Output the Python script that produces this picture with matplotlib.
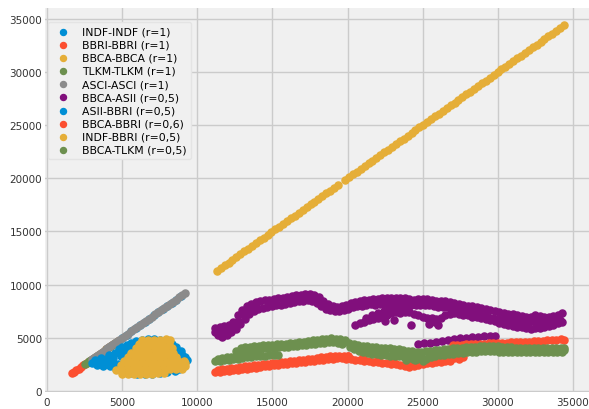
import matplotlib.pyplot as plt
import numpy as np

# prices used for the r=1 series (each stock plotted against itself)
indf_price = [5000, 5300, 5600, 5900, 6200, 6500, 6800, 7100, 7400, 7700, 8000, 8300, 8600, 8900]
bbri_price = [1650, 1800, 1950, 2100, 2250, 2400, 2550, 2700, 2900, 3100, 3300, 3500,
              3700, 3900, 4100, 4300, 4500, 4700]
bbca_price = [11300, 11560, 11820, 12080, 12340, 12600, 12860, 13120, 13380, 13640,
              13900, 14160, 14420, 14680, 14940, 15200, 15460, 15720, 15980, 16240,
              16500, 16760, 17020, 17280, 17540, 17800, 18060, 18320, 18580, 18840,
              19100, 19340, 19860, 20100, 20360, 20620, 20880, 21140, 21400, 21660,
              21920, 22180, 22440, 22700, 22960, 23220, 23480, 23740, 24000, 24260,
              24520, 24780, 25040, 25300, 25560, 25820, 26080, 26340, 26600, 26860,
              27120, 27380, 27640, 27900, 28160, 28420, 28680, 28940, 29200, 29460,
              29720, 29980, 30240, 30500, 30760, 31020, 31280, 31540, 31800, 32060,
              32320, 32580, 32840, 33100, 33360, 33620, 33880, 34140, 34400]
tlkm_price = [2500, 2650, 2800, 2950, 3100, 3300, 3500, 3700, 3900, 4100, 4300, 4500, 4700]
asii_price = [3000, 3200, 3400, 3600, 3800, 4000, 4200, 4400, 4600, 4800, 5000,
              5200, 5400, 5600, 5800, 6000, 6200, 6400, 6600, 6800, 7000, 7200,
              7400, 7600, 7800, 8000, 8200, 8400, 8600, 8800, 9000, 9200]

# BBCA (x) vs ASII (y)
bbca_asii = [
    # upper edge of main band
    (11200, 5900), (11500, 6000), (11800, 6100), (12100, 6200), (12400, 6500),
    (12700, 7100), (13000, 7600), (13300, 8000), (13600, 8200), (13900, 8350),
    (14200, 8450), (14500, 8550), (14800, 8600), (15100, 8650), (15400, 8700),
    (15700, 8750), (16000, 8800), (16300, 8900), (16600, 9000), (16900, 9050),
    (17200, 9150), (17500, 9150), (17800, 9000), (18100, 8800), (18400, 8500),
    (18700, 8200), (19000, 8000), (19300, 7900), (19600, 7950), (19900, 8100),
    (20200, 8300), (20500, 8400), (20800, 8500), (21100, 8550), (21400, 8600),
    (21700, 8650), (22000, 8650), (22300, 8700), (22600, 8750), (22900, 8750),
    (23200, 8700), (23500, 8750), (23800, 8750), (24100, 8650), (24400, 8600),
    (24700, 8650), (25000, 8650), (25300, 8650), (25600, 8600), (25900, 8500),
    (26200, 8450), (26500, 8450), (26800, 8400), (27100, 8300), (27400, 8200),
    (27700, 8100), (28000, 8000), (28300, 7950), (28600, 7900), (28900, 7800),
    (29200, 7700), (29500, 7600), (29800, 7500), (30100, 7400), (30400, 7300),
    (30700, 7250), (31000, 7200), (31300, 7100), (31600, 7050), (31900, 7000),
    (32200, 7000), (32500, 7100), (32800, 7050), (33100, 7000), (33400, 7000),
    (33700, 7050), (34000, 7150), (34300, 7300),
    # lower edge of main band
    (11350, 5300), (11650, 5100), (11950, 5300), (12250, 5500), (12550, 5800),
    (12850, 6300), (13150, 6800), (13450, 7200), (13750, 7500), (14050, 7700),
    (14350, 7800), (14650, 7900), (14950, 8000), (15250, 8050), (15550, 8100),
    (15850, 8200), (16150, 8300), (16450, 8350), (16750, 8450), (17050, 8500),
    (17350, 8550), (17650, 8500), (17950, 8300), (18250, 8000), (18550, 7750),
    (18850, 7600), (19150, 7550), (19450, 7550), (19750, 7600), (20050, 7700),
    (20350, 7850), (20650, 7950), (20950, 8000), (21250, 8100), (21550, 8150),
    (21850, 8100), (22150, 8150), (22450, 8200), (22750, 8250), (23050, 8200),
    (23350, 8150), (23650, 8200), (23950, 8200), (24250, 8100), (24550, 8050),
    (24850, 8100), (25150, 8100), (25450, 8050), (25750, 8000), (26050, 7900),
    (26350, 7900), (26650, 7850), (26950, 7750), (27250, 7650), (27550, 7550),
    (27850, 7450), (28150, 7400), (28450, 7300), (28750, 7200), (29050, 7100),
    (29350, 7000), (29650, 6900), (29950, 6800), (30250, 6750), (30550, 6700),
    (30850, 6650), (31150, 6600), (31450, 6550), (31750, 6500), (32050, 6450),
    (32350, 6550), (32650, 6500), (32950, 6450), (33250, 6450), (33550, 6400),
    (33850, 6550), (34150, 6700),
    (11200, 5500), (11500, 5600), (11800, 5700), (12100, 5800), (12400, 6000),
    (12700, 6600), (13000, 7200), (13300, 7600), (13600, 7850), (13900, 8000),
    # lower branch
    (20500, 6200), (20800, 6350), (21100, 6500), (21400, 6650), (21700, 6800),
    (22000, 6900), (22300, 7000), (22600, 7150), (22900, 7300), (23200, 7400),
    (23500, 7350), (23800, 7400), (24100, 7450), (24400, 7250), (24700, 7100),
    (25000, 7000), (25300, 6900), (25600, 6850), (25900, 6800), (26200, 6900),
    (26500, 7100), (26800, 7250), (27100, 7350), (27400, 7250), (27700, 7150),
    (28000, 7100), (28300, 7000), (28600, 6950), (28900, 6850), (29200, 6800),
    (29500, 6700), (29800, 6550), (30100, 6400), (30400, 6300), (30700, 6200),
    (31000, 6150), (31300, 6050), (31600, 6000), (31900, 5900), (32200, 5850),
    (32500, 5900), (32800, 5950), (33100, 6000), (33400, 6100), (33700, 6200),
    (34000, 6350), (34300, 6500),
    (21200, 6900), (21600, 7100), (22000, 7300), (22400, 7500), (22800, 7700),
    (23200, 7800), (23600, 7750), (24000, 7800),
    (22500, 6600), (23100, 6700), (24200, 6200), (25400, 6300), (25800, 6500),
    (26000, 6200),
    # sparse tail
    (24700, 4400), (25100, 4500), (25500, 4550), (25900, 4650), (26300, 4700),
    (26700, 4800), (27100, 4900), (27500, 4950), (27900, 5000), (28300, 5100),
    (28700, 5100), (29100, 5200), (29500, 5200), (29800, 5150),
]

# ASII (x) vs BBRI (y)
asii_bbri = [
    (3000, 2600), (3200, 2900), (3300, 2400), (3500, 2700), (3600, 3100),
    (3700, 2300), (3900, 2600), (4000, 3000), (4100, 3400), (4200, 2300),
    (4300, 2700), (4400, 3100), (4500, 3600), (4600, 2100), (4700, 2500),
    (4800, 3900), (4900, 3300), (5000, 4100), (5200, 3700), (5300, 4300),
    (5500, 4000), (5600, 4500), (5800, 4200), (5900, 4700), (6100, 4400),
    (6300, 4800), (6500, 4600), (6700, 4900), (6900, 4700), (7100, 4900),
    (7300, 4700), (7500, 4800), (7700, 4600), (7900, 4500), (8100, 4300),
    (8300, 4400), (8400, 4000), (8600, 4100), (8700, 3700), (8900, 3800),
    (9000, 3400), (9200, 3200), (9300, 2900), (9100, 2600), (9000, 2300),
    (8800, 2100), (8500, 1900), (8000, 1800), (7500, 1700), (7000, 1600),
    (6500, 1600), (6000, 1600), (5500, 1700), (5200, 1900), (5000, 2200),
    (5500, 2500), (6000, 3000), (6500, 3500), (7000, 4000), (7500, 3000),
    (8000, 2500), (6000, 2000), (7000, 2500), (8000, 3500), (5500, 3300),
    (6500, 2500), (7500, 2000),
]

# BBCA (x) vs BBRI (y)
bbca_bbri = [
    (11200, 1750), (11500, 1800), (11800, 1850), (12100, 1900), (12400, 1950),
    (12700, 2000), (13000, 2050), (13300, 2100), (13600, 2150), (13900, 2200),
    (14200, 2250), (14500, 2300), (14800, 2350), (15100, 2400), (15400, 2450),
    (15700, 2500), (16000, 2550), (16300, 2600), (16600, 2650), (16900, 2700),
    (17200, 2750), (17500, 2800), (17800, 2850), (18100, 2900), (18400, 2950),
    (18700, 3000), (19000, 3050), (19300, 3100), (19600, 3100), (19900, 3050),
    (20200, 3000), (20500, 2950), (20800, 2900), (21100, 2850), (21400, 2800),
    (21700, 2750), (22000, 2700), (22300, 2650), (22600, 2600), (22900, 2550),
    (23200, 2500), (23500, 2400), (23800, 2300), (24100, 2250), (24400, 2300),
    (24700, 2400), (25000, 2500), (25300, 2600), (25600, 2650), (25900, 2700),
    (26200, 2750), (26500, 2800), (26800, 2850),
    (11350, 2000), (11650, 2050), (11950, 2100), (12250, 2150), (12550, 2200),
    (12850, 2250), (13150, 2300), (13450, 2350), (13750, 2400), (14050, 2450),
    (14350, 2500), (14650, 2550), (14950, 2600), (15250, 2650), (15550, 2700),
    (15850, 2750), (16150, 2800), (16450, 2850), (16750, 2900), (17050, 2950),
    (17350, 3000), (17650, 3050), (17950, 3100), (18250, 3150), (18550, 3200),
    (18850, 3250), (19150, 3300), (19450, 3300), (19750, 3300), (20050, 3250),
    (20000, 3300), (21000, 3200), (22000, 3000), (23000, 2800), (24000, 2600),
    (25000, 2800), (26000, 3000),
    (26800, 3000), (27100, 3100), (27400, 3050), (27700, 3150),
    (27000, 4300), (27300, 4350), (27600, 4300), (27900, 4400), (28200, 4400),
    (28500, 4450), (28800, 4400), (29100, 4450), (29400, 4500), (29700, 4500),
    (30000, 4550), (30300, 4500), (30600, 4550), (30900, 4600), (31200, 4600),
    (31500, 4650), (31800, 4600), (32100, 4650), (32400, 4700), (32700, 4700),
    (33000, 4700), (33300, 4750), (33600, 4750), (33900, 4800), (34200, 4850),
    (34400, 4800),
]

# INDF (x) vs BBRI (y)
indf_bbri = [
    (5000, 1600), (5400, 1550), (5800, 1600), (6200, 1550), (6600, 1600),
    (7000, 1600), (7400, 1650), (7800, 1650),
    (4600, 2000), (5000, 2000), (5400, 2000), (5800, 2050), (6200, 2000),
    (6600, 2000), (7000, 2050), (7400, 2000), (7800, 2000), (8200, 2050),
    (8600, 2100), (9000, 2100), (9200, 2300),
    (4900, 2400), (5300, 2400), (5700, 2450), (6100, 2400), (6500, 2400),
    (6900, 2450), (7300, 2400), (7700, 2400), (8100, 2450), (8500, 2400),
    (8900, 2450), (9200, 2600),
    (5100, 2800), (5500, 2800), (5900, 2850), (6300, 2800), (6700, 2800),
    (7100, 2850), (7500, 2800), (7900, 2800), (8300, 2850), (8700, 2800),
    (9100, 2800),
    (5400, 3200), (5800, 3200), (6200, 3250), (6600, 3200), (7000, 3200),
    (7400, 3250), (7800, 3200), (8200, 3200), (8600, 3150),
    (5600, 3600), (6000, 3600), (6400, 3650), (6800, 3600), (7200, 3600),
    (7600, 3650), (8000, 3600), (8400, 3600),
    (5900, 4000), (6300, 4000), (6700, 4050), (7100, 4000), (7500, 4000),
    (7900, 4050), (8300, 4000),
    (6100, 4400), (6500, 4400), (6900, 4450), (7300, 4400), (7700, 4400),
    (8100, 4450),
    (6300, 4750), (6700, 4750), (7100, 4800), (7500, 4750), (7900, 4850),
    (8200, 4800),
]

# BBCA (x) vs TLKM (y)
bbca_tlkm = [
    (11200, 2800), (11500, 2850), (11800, 2900), (12100, 2950), (12400, 3000),
    (12700, 3050), (13000, 3100), (13300, 3150), (13600, 3200), (13900, 3250),
    (14200, 3300), (14500, 3300), (14800, 3350), (15100, 3350), (15400, 3400),
    (11350, 3050), (11650, 3100), (11950, 3150), (12250, 3200), (12550, 3250),
    (12850, 3300), (13150, 3350), (13450, 3400),
    (12600, 3800), (12900, 4000), (13200, 4100), (13500, 4150), (13800, 4200),
    (14100, 4250), (14400, 4300), (14700, 4300), (15000, 4350), (15300, 4400),
    (15600, 4400), (15900, 4450), (16200, 4500), (16500, 4550), (16800, 4600),
    (17100, 4650), (17400, 4700), (17700, 4750), (18000, 4800), (18300, 4850),
    (18600, 4900), (18900, 4950), (19200, 4900), (19500, 4850), (19800, 4750),
    (20100, 4550), (20400, 4400), (20700, 4300), (21000, 4250), (21300, 4200),
    (21600, 4150), (21900, 4100), (22200, 4050), (22500, 4000), (22800, 4000),
    (23100, 3950), (23400, 3900), (23700, 3850), (24000, 3800), (24300, 3750),
    (24600, 3700), (24900, 3700), (25200, 3750), (25500, 3800), (25800, 3850),
    (26100, 3850), (26400, 3900), (26700, 3950), (27000, 4000), (27300, 4000),
    (27600, 4050), (27900, 4100), (28200, 4100), (28500, 4150), (28800, 4200),
    (29100, 4250), (29400, 4250), (29700, 4250), (30000, 4200), (30300, 4150),
    (30600, 4100), (30900, 4100), (31200, 4050), (31500, 4000), (31800, 4000),
    (32100, 4000), (32400, 4000), (32700, 4000), (33000, 4000), (33300, 4000),
    (33600, 4000), (33900, 4000), (34200, 4000), (34400, 4000),
    (12750, 3600), (13050, 3700), (13350, 3800), (13650, 3850), (13950, 3900),
    (14250, 3950), (14550, 4000), (14850, 4000), (15150, 4050), (15450, 4100),
    (15750, 4100), (16050, 4150), (16350, 4200), (16650, 4250), (16950, 4300),
    (17250, 4350), (17550, 4400), (17850, 4450), (18150, 4500), (18450, 4550),
    (18750, 4600), (19050, 4600), (19350, 4550), (19650, 4450),
    (20150, 4100), (20450, 3900), (20750, 3750), (21050, 3650), (21350, 3550),
    (21650, 3500), (21950, 3450), (22250, 3400), (22550, 3350), (22850, 3300),
    (23150, 3250), (23450, 3300), (23750, 3200), (24050, 3100), (24350, 3050),
    (24650, 3000), (24950, 3100), (25250, 3050), (25550, 3150), (25850, 3250),
    (26150, 3350), (26450, 3400), (26750, 3450), (27050, 3500), (27350, 3550),
    (27650, 3600), (27950, 3650), (28250, 3650), (28550, 3700), (28850, 3750),
    (29150, 3800), (29450, 3800), (29750, 3750), (30050, 3700), (30350, 3700),
    (30650, 3700), (30950, 3700), (31250, 3650), (31550, 3650), (31850, 3650),
    (32150, 3650), (32450, 3650), (32750, 3700), (33050, 3700), (33350, 3650),
    (33650, 3650), (33950, 3650), (34250, 3700),
    (21200, 3900), (21800, 3800), (22400, 3700), (23000, 3600), (23600, 3550),
    (24200, 3450), (24800, 3400), (25400, 3450), (26000, 3550), (26600, 3650),
    (27200, 3750), (27800, 3850), (28400, 3900), (29000, 3950), (29600, 3950),
    (30200, 3950), (30800, 3900), (31400, 3850), (32000, 3850), (32600, 3850),
    (33200, 3850), (33800, 3850), (34400, 3850),
    (23900, 2950), (24500, 2900), (25000, 2850),
]

colors = ['#008fd5', '#fc4f30', '#e5ae38', '#6d904f', '#8b8b8b', '#810f7c']

fig = plt.figure(figsize=(5.89, 4.10), dpi=100, facecolor='white')
ax = fig.add_axes([45 / 589, 17 / 410, 546 / 589, 384 / 410])
ax.set_facecolor('#f0f0f0')
ax.grid(True, color='#cbcbcb', linewidth=1)
ax.set_axisbelow(True)
for s in ax.spines.values():
    s.set_visible(False)

size = 26
ax.scatter(indf_price, indf_price, s=size, color=colors[0], label='INDF-INDF (r=1)')
ax.scatter(bbri_price, bbri_price, s=size, color=colors[1], label='BBRI-BBRI (r=1)')
ax.scatter(bbca_price, bbca_price, s=size, color=colors[2], label='BBCA-BBCA (r=1)')
ax.scatter(tlkm_price, tlkm_price, s=size, color=colors[3], label='TLKM-TLKM (r=1)')
ax.scatter(asii_price, asii_price, s=size, color=colors[4], label='ASCI-ASCI (r=1)')

x, y = np.array(bbca_asii).T
ax.scatter(x, y, s=size, color=colors[5], label='BBCA-ASII (r=0,5)')
x, y = np.array(asii_bbri).T
ax.scatter(x, y, s=size, color=colors[0], label='ASII-BBRI (r=0,5)')
x, y = np.array(bbca_bbri).T
ax.scatter(x, y, s=size, color=colors[1], label='BBCA-BBRI (r=0,6)')
x, y = np.array(indf_bbri).T
ax.scatter(x, y, s=size, color=colors[2], label='INDF-BBRI (r=0,5)')
x, y = np.array(bbca_tlkm).T
ax.scatter(x, y, s=size, color=colors[3], label='BBCA-TLKM (r=0,5)')

ax.set_xlim(-130, 36200)
ax.set_ylim(-100, 36020)
ax.set_xticks(np.arange(0, 35001, 5000))
ax.set_yticks(np.arange(0, 35001, 5000))
ax.tick_params(length=0, labelsize=7.5, labelcolor='#333333')
ax.tick_params(axis='y', pad=2)

leg = ax.legend(loc='upper left', bbox_to_anchor=(0.005, 0.963), borderaxespad=0,
                fontsize=7.8, labelspacing=0.29, markerscale=0.85, scatterpoints=1,
                frameon=True, fancybox=True)
leg.get_frame().set_facecolor('#f0f0f0')
leg.get_frame().set_edgecolor('#e4e4e4')
leg.get_frame().set_alpha(1)

fig.savefig('out.png', dpi=100, facecolor='white')
